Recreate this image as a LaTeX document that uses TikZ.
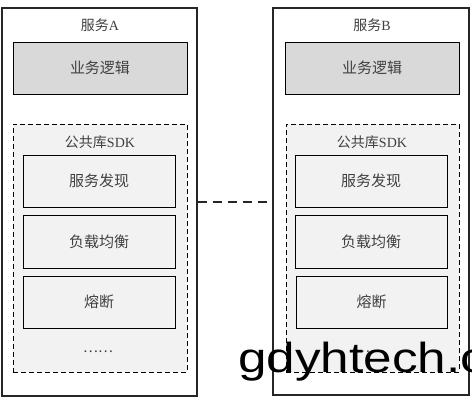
\documentclass[tikz,border=0pt]{standalone}
\usepackage{fontspec}
\newfontfamily\cjk{Noto Sans CJK SC}
\newfontfamily\lat{Liberation Serif}
\newfontfamily\wmfont{Liberation Sans}
\definecolor{logicgray}{HTML}{D9D9D9}
\definecolor{sdkgray}{HTML}{F2F2F2}
\definecolor{txt}{HTML}{404040}
\begin{document}
\begin{tikzpicture}[x=1pt,y=-1pt,
  outerbox/.style={draw=black!85, line width=1.3pt, rectangle, inner sep=0pt, minimum width=195pt, minimum height=388pt},
  logicbox/.style={draw=black, line width=0.9pt, fill=logicgray, rectangle, inner sep=0pt, minimum width=174pt, minimum height=52pt, font=\cjk\fontsize{15}{15}\selectfont, text=txt},
  sdkbox/.style={draw=black, line width=0.9pt, dash pattern=on 5pt off 3pt, fill=sdkgray, rectangle, inner sep=0pt, minimum width=174pt, minimum height=248pt},
  compbox/.style={draw=black, line width=0.9pt, fill=sdkgray, rectangle, inner sep=0pt, minimum width=152pt, minimum height=52pt, font=\cjk\fontsize{15}{15}\selectfont, text=txt},
  title/.style={font=\cjk\fontsize{14}{14}\selectfont, text=txt, inner sep=0pt},
  link/.style={draw=black!85, line width=1.5pt, dash pattern=on 9pt off 6pt}
]
\useasboundingbox (0,0) rectangle (472,403);
\fill[white] (0,0) rectangle (472,403);
% Service A
\node[outerbox] (A) at (99.5,202) {};
\node[title] (At) at (100,25) {服务{\lat A}};
\node[logicbox] (Al) at (100,68) {业务逻辑};
\node[sdkbox] (As) at (100,248) {};
\node[title] (Ast) at (100,142) {公共库{\lat SDK}};
\node[compbox] (A1) at (99,181) {服务发现};
\node[compbox, minimum height=53pt] (A2) at (99,241.5) {负载均衡};
\node[compbox] (A3) at (99,302) {熔断};
\node[title] (Ad) at (98,352) {……};
% Service B
\node[outerbox, minimum width=196pt, minimum height=387pt] (B) at (371,201.5) {};
\node[title] (Bt) at (372,25) {服务{\lat B}};
\node[logicbox] (Bl) at (372,68) {业务逻辑};
\node[sdkbox, minimum width=173pt] (Bs) at (372.5,248.5) {};
\node[title] (Bst) at (372,142) {公共库{\lat SDK}};
\node[compbox] (B1) at (371,181) {服务发现};
\node[compbox, minimum height=53pt] (B2) at (371,241.5) {负载均衡};
\node[compbox, minimum width=151pt] (B3) at (371.5,302) {熔断};
\node[title] (Bd) at (370,352) {……};
% connector
\draw[link] (A.east) -- (A.east -| B.west);
% watermark
\node[font=\wmfont\fontsize{42}{42}\selectfont, text=black, anchor=base west, inner sep=0pt, xscale=1.22] (wm) at (238,373) {gdyhtech.c};
\end{tikzpicture}
\end{document}
